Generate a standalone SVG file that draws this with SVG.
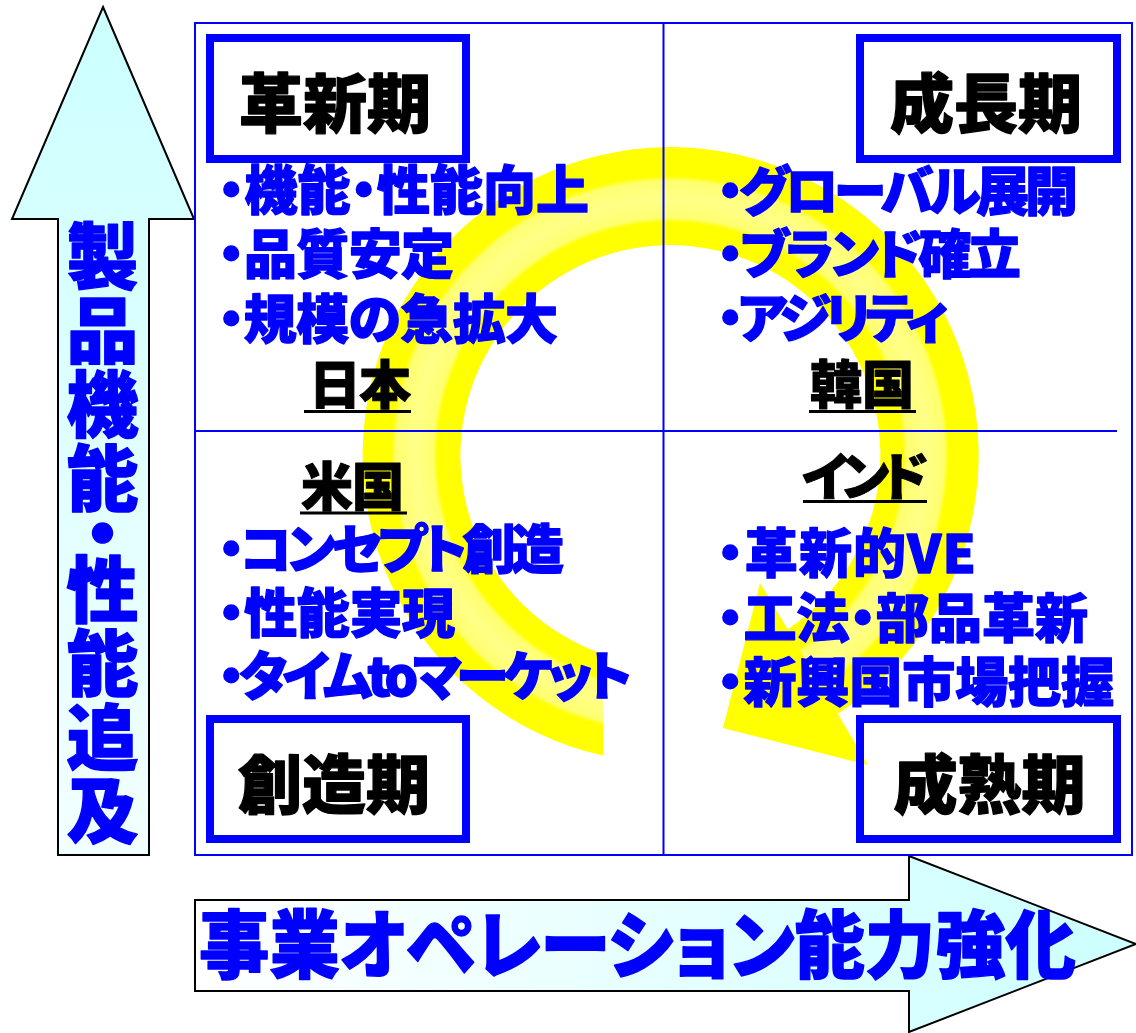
<svg xmlns="http://www.w3.org/2000/svg" width="1136" height="1033" viewBox="0 0 1136 1033">
<defs>
<linearGradient id="gV" x1="0" y1="7" x2="0" y2="855" gradientUnits="userSpaceOnUse">
<stop offset="0" stop-color="#CCFFFF"/>
<stop offset="1" stop-color="#F2FFFF"/>
</linearGradient>
<linearGradient id="gH" x1="195" y1="0" x2="1136" y2="0" gradientUnits="userSpaceOnUse">
<stop offset="0" stop-color="#FFFFFF"/>
<stop offset="1" stop-color="#CCFFFF"/>
</linearGradient>
<radialGradient id="gRing" cx="670" cy="455" r="308" gradientUnits="userSpaceOnUse">
<stop offset="0.68" stop-color="#FFFF00"/>
<stop offset="0.755" stop-color="#FFFF00"/>
<stop offset="0.77" stop-color="#FFFF70"/>
<stop offset="0.83" stop-color="#FFFF88"/>
<stop offset="0.89" stop-color="#FFFF70"/>
<stop offset="0.905" stop-color="#FFFF00"/>
<stop offset="1" stop-color="#FFFF00"/>
</radialGradient>
</defs>
<style>
.ja{font-family:"Noto Sans CJK JP","Noto Sans",sans-serif;font-weight:900;font-feature-settings:"palt";}
.b{fill:#0000FF;stroke:#0000FF;stroke-width:1.3;stroke-linejoin:round;font-size:53px;}
.t{fill:#000;stroke:#000;stroke-width:1.3;stroke-linejoin:round;font-size:64px;text-anchor:middle;}
.c{fill:#000;stroke:#000;stroke-width:1;stroke-linejoin:round;font-size:52px;}
.v{fill:#0000FF;stroke:#0000FF;stroke-width:1.3;stroke-linejoin:round;font-size:72px;font-feature-settings:"vpal";}
.box{fill:none;stroke:#0000FF;stroke-width:8;}
.grid{fill:none;stroke:#0000FF;stroke-width:2;}
.ul{fill:#000;}
.arr{stroke:#000;stroke-width:2;stroke-linejoin:miter;}
</style>

<g id="axis-vertical">
<polygon class="arr" fill="url(#gV)" points="103,7 194,219 149,219 149,855 58,855 58,219 12,219"/>
<text class="ja v" x="102.5" y="220" writing-mode="tb" textLength="626">製品機能・性能追及</text>
</g>

<g id="axis-horizontal">
<polygon class="arr" fill="url(#gH)" points="195,900 909,900 909,856 1136,944 909,1032 909,991 195,991"/>
<text class="ja" x="199" y="972" textLength="877" lengthAdjust="spacingAndGlyphs" style="fill:#0000FF;stroke:#0000FF;stroke-width:1.4;stroke-linejoin:round;font-size:74px;">事業オペレーション能力強化</text>
</g>

<g id="cycle-arrow">
<path fill="url(#gRing)" d="M603,755.6 A308,308 0 1 1 837.8,713.8 L787.5,629.4 A210,210 0 1 0 603,654 Z"/>
<polygon fill="#FFFF00" points="760,583 868,765 723,728"/>
</g>

<g id="connectors">
<rect class="grid" x="195" y="23" width="937" height="832"/>
<line class="grid" x1="663.5" y1="23" x2="663.5" y2="855"/>
<line class="grid" x1="195" y1="431" x2="1117" y2="431"/>
</g>

<g id="q-innovation">
<rect class="box" x="210" y="38" width="256" height="121"/>
<text class="ja t" x="335" y="126.5">革新期</text>
<text class="ja b" x="218" y="210" textLength="371">・機能・性能向上</text>
<text class="ja b" x="218" y="274" textLength="236">・品質安定</text>
<text class="ja b" x="218" y="339" textLength="340">・規模の急拡大</text>
<text class="ja c" x="309" y="404" textLength="102">日本</text>
<rect class="ul" x="304" y="410" width="107" height="3"/>
</g>

<g id="q-growth">
<rect class="box" x="860" y="38" width="257" height="121"/>
<text class="ja t" x="986" y="126.5">成長期</text>
<text class="ja b" x="717" y="211" textLength="361">・グローバル展開</text>
<text class="ja b" x="717" y="274" textLength="304">・ブランド確立</text>
<text class="ja b" x="717" y="338" textLength="231">・アジリティ</text>
<text class="ja c" x="810" y="404" textLength="104">韓国</text>
<rect class="ul" x="809" y="410" width="107" height="3"/>
</g>

<g id="q-creation">
<rect class="box" x="210" y="719" width="256" height="120"/>
<text class="ja t" x="334" y="807.5">創造期</text>
<text class="ja c" x="301" y="506" textLength="103">米国</text>
<rect class="ul" x="300" y="511.5" width="107" height="3"/>
<text class="ja b" x="218" y="569" textLength="346">・コンセプト創造</text>
<text class="ja b" x="218" y="633" textLength="237">・性能実現</text>
<text class="ja b" x="218" y="696" textLength="414">・タイムtoマーケット</text>
</g>

<g id="q-maturity">
<rect class="box" x="860" y="719" width="257" height="120"/>
<text class="ja t" x="989.5" y="807.5">成熟期</text>
<text class="ja c" x="802" y="496" textLength="126">インド</text>
<rect class="ul" x="803" y="500" width="124" height="3"/>
<text class="ja b" x="717" y="573" textLength="259">・革新的VE</text>
<text class="ja b" x="717" y="638" textLength="371">・工法・部品革新</text>
<text class="ja b" x="717" y="702" textLength="397">・新興国市場把握</text>
</g>
</svg>
